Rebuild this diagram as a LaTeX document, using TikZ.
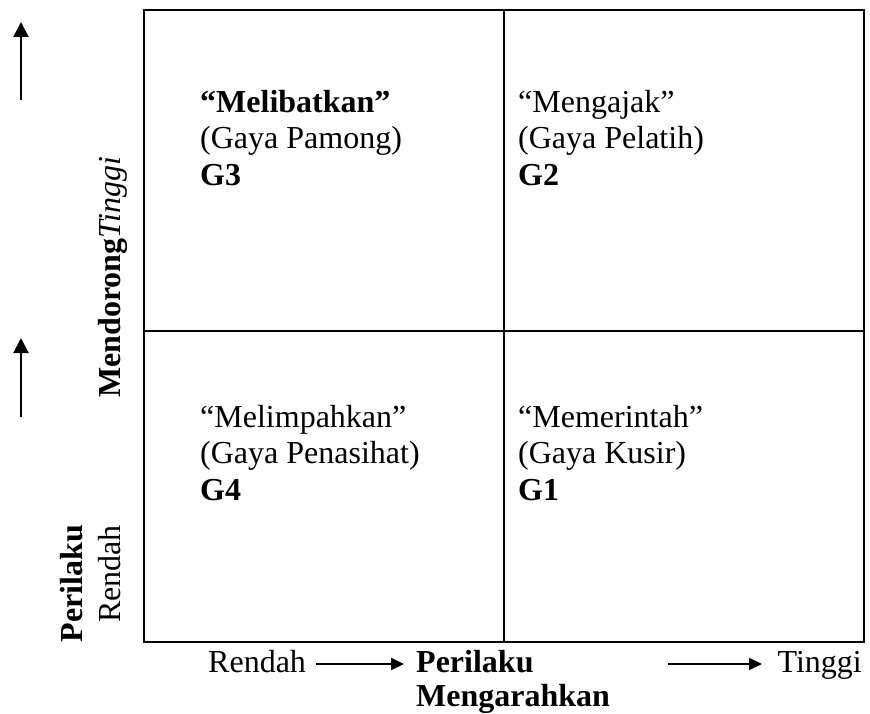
\documentclass[tikz,border=0pt]{standalone}
\usepackage{fontspec}
\setmainfont{Liberation Serif}
\usetikzlibrary{arrows.meta}
\begin{document}
\begin{tikzpicture}[x=1pt,y=-1pt,
  txt/.style={inner sep=0pt, font=\fontsize{32}{36.5}\selectfont},
  quad/.style={txt, align=left, anchor=north west},
  gridline/.style={line width=2.2pt},
  axarrow/.style={line width=2pt, -{Triangle[length=15pt,width=15pt]}},
  hzarrow/.style={line width=1.8pt, -{Triangle[length=13pt,width=12pt]}}]
\useasboundingbox (0,0) rectangle (870,714);

% quadrant grid
\draw[gridline] (144,10) rectangle (864,642);
\draw[gridline] (504,10) -- (504,642);
\draw[gridline] (144,331) -- (864,331);

% quadrant labels
\node[quad] (g3) at (200,90)  {\textbf{“Melibatkan”}\\(Gaya Pamong)\\\textbf{G3}};
\node[quad] (g2) at (518,90)  {“Mengajak”\\(Gaya Pelatih)\\\textbf{G2}};
\node[quad] (g4) at (200,405) {“Melimpahkan”\\(Gaya Penasihat)\\\textbf{G4}};
\node[quad] (g1) at (518,405) {“Memerintah”\\(Gaya Kusir)\\\textbf{G1}};

% vertical axis
\node[txt, rotate=90, anchor=base west] (vmain) at (120,398) {\textbf{Mendorong}\textit{Tinggi}};
\node[txt, rotate=90, anchor=base east] (vper) at (82,525) {\textbf{Perilaku}};
\node[txt, rotate=90, anchor=base east] (vren) at (120,525) {Rendah};
\coordinate (up1s) at (21,100);
\coordinate (up1e) at (21,22);
\coordinate (up2s) at (21,417);
\coordinate (up2e) at (21,338);
\draw[axarrow] (up1s) -- (up1e);
\draw[axarrow] (up2s) -- (up2e);

% horizontal axis
\node[txt, anchor=base west] (hren) at (208,672) {Rendah};
\node[txt, anchor=base west] (hper) at (416,672) {\textbf{Perilaku}};
\node[txt, anchor=base west] (hmen) at (416,706) {\textbf{Mengarahkan}};
\node[txt, anchor=base east] (hting) at (862,672) {Tinggi};
\coordinate (r1s) at (316,664);
\coordinate (r1e) at (404,664);
\coordinate (r2s) at (668,664);
\coordinate (r2e) at (762,664);
\draw[hzarrow] (r1s) -- (r1e);
\draw[hzarrow] (r2s) -- (r2e);
\end{tikzpicture}
\end{document}
